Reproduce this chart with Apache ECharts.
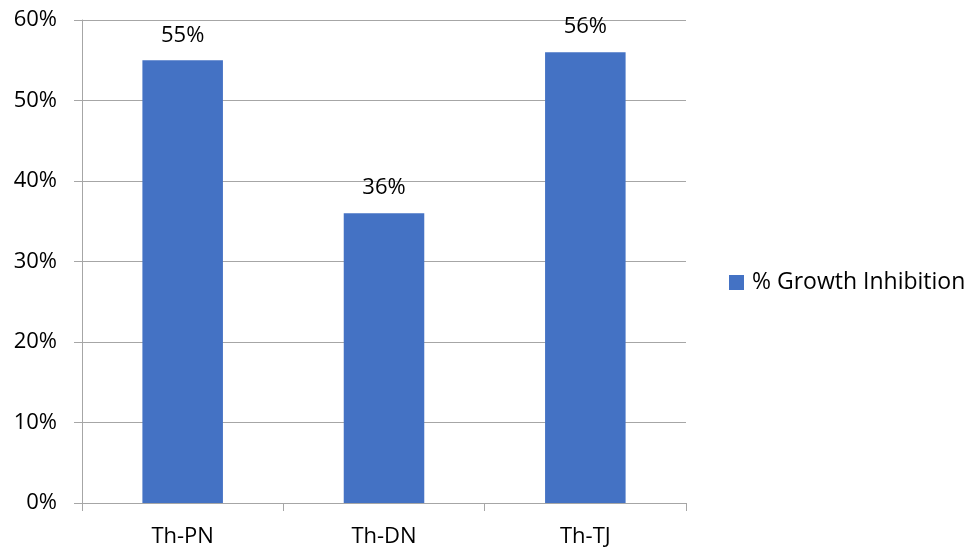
<!DOCTYPE html>
<html>
<head>
<meta charset="utf-8">
<script src="https://cdn.jsdelivr.net/npm/echarts@6/dist/echarts.min.js"></script>
<style>
  html, body { margin: 0; padding: 0; background: #fff; }
  #chart { width: 978px; height: 556px; }
</style>
</head>
<body>
<div id="chart"></div>
<script>
// Growth inhibition per treatment, in percent
const categories = ['Th-PN', 'Th-DN', 'Th-TJ'];
const inhibition = [55, 36, 56];
const seriesName = '% Growth Inhibition';

const FONT = '"Open Sans", "Liberation Sans", sans-serif';
const GREY = '#a6a6a6';
const FS = 22;

const chart = echarts.init(document.getElementById('chart'), null, { renderer: 'canvas' });
chart.setOption({
  animation: false,
  backgroundColor: '#ffffff',
  textStyle: { fontFamily: FONT, color: '#000' },
  grid: { left: 82, right: 292, top: 20, bottom: 53, containLabel: false },
  legend: {
    data: [seriesName],
    orient: 'vertical',
    left: 729,
    top: 271,
    padding: 0,
    itemWidth: 15,
    itemHeight: 15,
    itemGap: 0,
    icon: 'rect',
    textStyle: { fontFamily: FONT, fontSize: 23, color: '#000', padding: [0, 0, 0, 3] }
  },
  xAxis: {
    type: 'category',
    data: categories,
    boundaryGap: true,
    axisLine: { show: true, lineStyle: { color: GREY, width: 1 } },
    axisTick: { show: true, length: 8, lineStyle: { color: GREY } },
    axisLabel: { fontFamily: FONT, fontSize: FS, color: '#000', margin: 23 },
    splitLine: { show: false }
  },
  yAxis: {
    type: 'value',
    min: 0,
    max: 60,
    interval: 10,
    axisLine: { show: true, lineStyle: { color: GREY, width: 1 } },
    axisTick: { show: true, length: 8, lineStyle: { color: GREY } },
    axisLabel: {
      fontFamily: FONT, fontSize: FS, color: '#000', margin: 25,
      formatter: v => v + '%'
    },
    splitLine: { show: true, lineStyle: { color: GREY, width: 1 } }
  },
  series: [{
    name: seriesName,
    type: 'bar',
    data: inhibition,
    barWidth: '40%',
    itemStyle: { color: '#4472C4' },
    label: {
      show: true,
      position: 'top',
      distance: 14,
      fontFamily: FONT,
      fontSize: FS,
      color: '#000',
      formatter: p => p.value + '%'
    }
  }]
});
</script>
</body>
</html>
